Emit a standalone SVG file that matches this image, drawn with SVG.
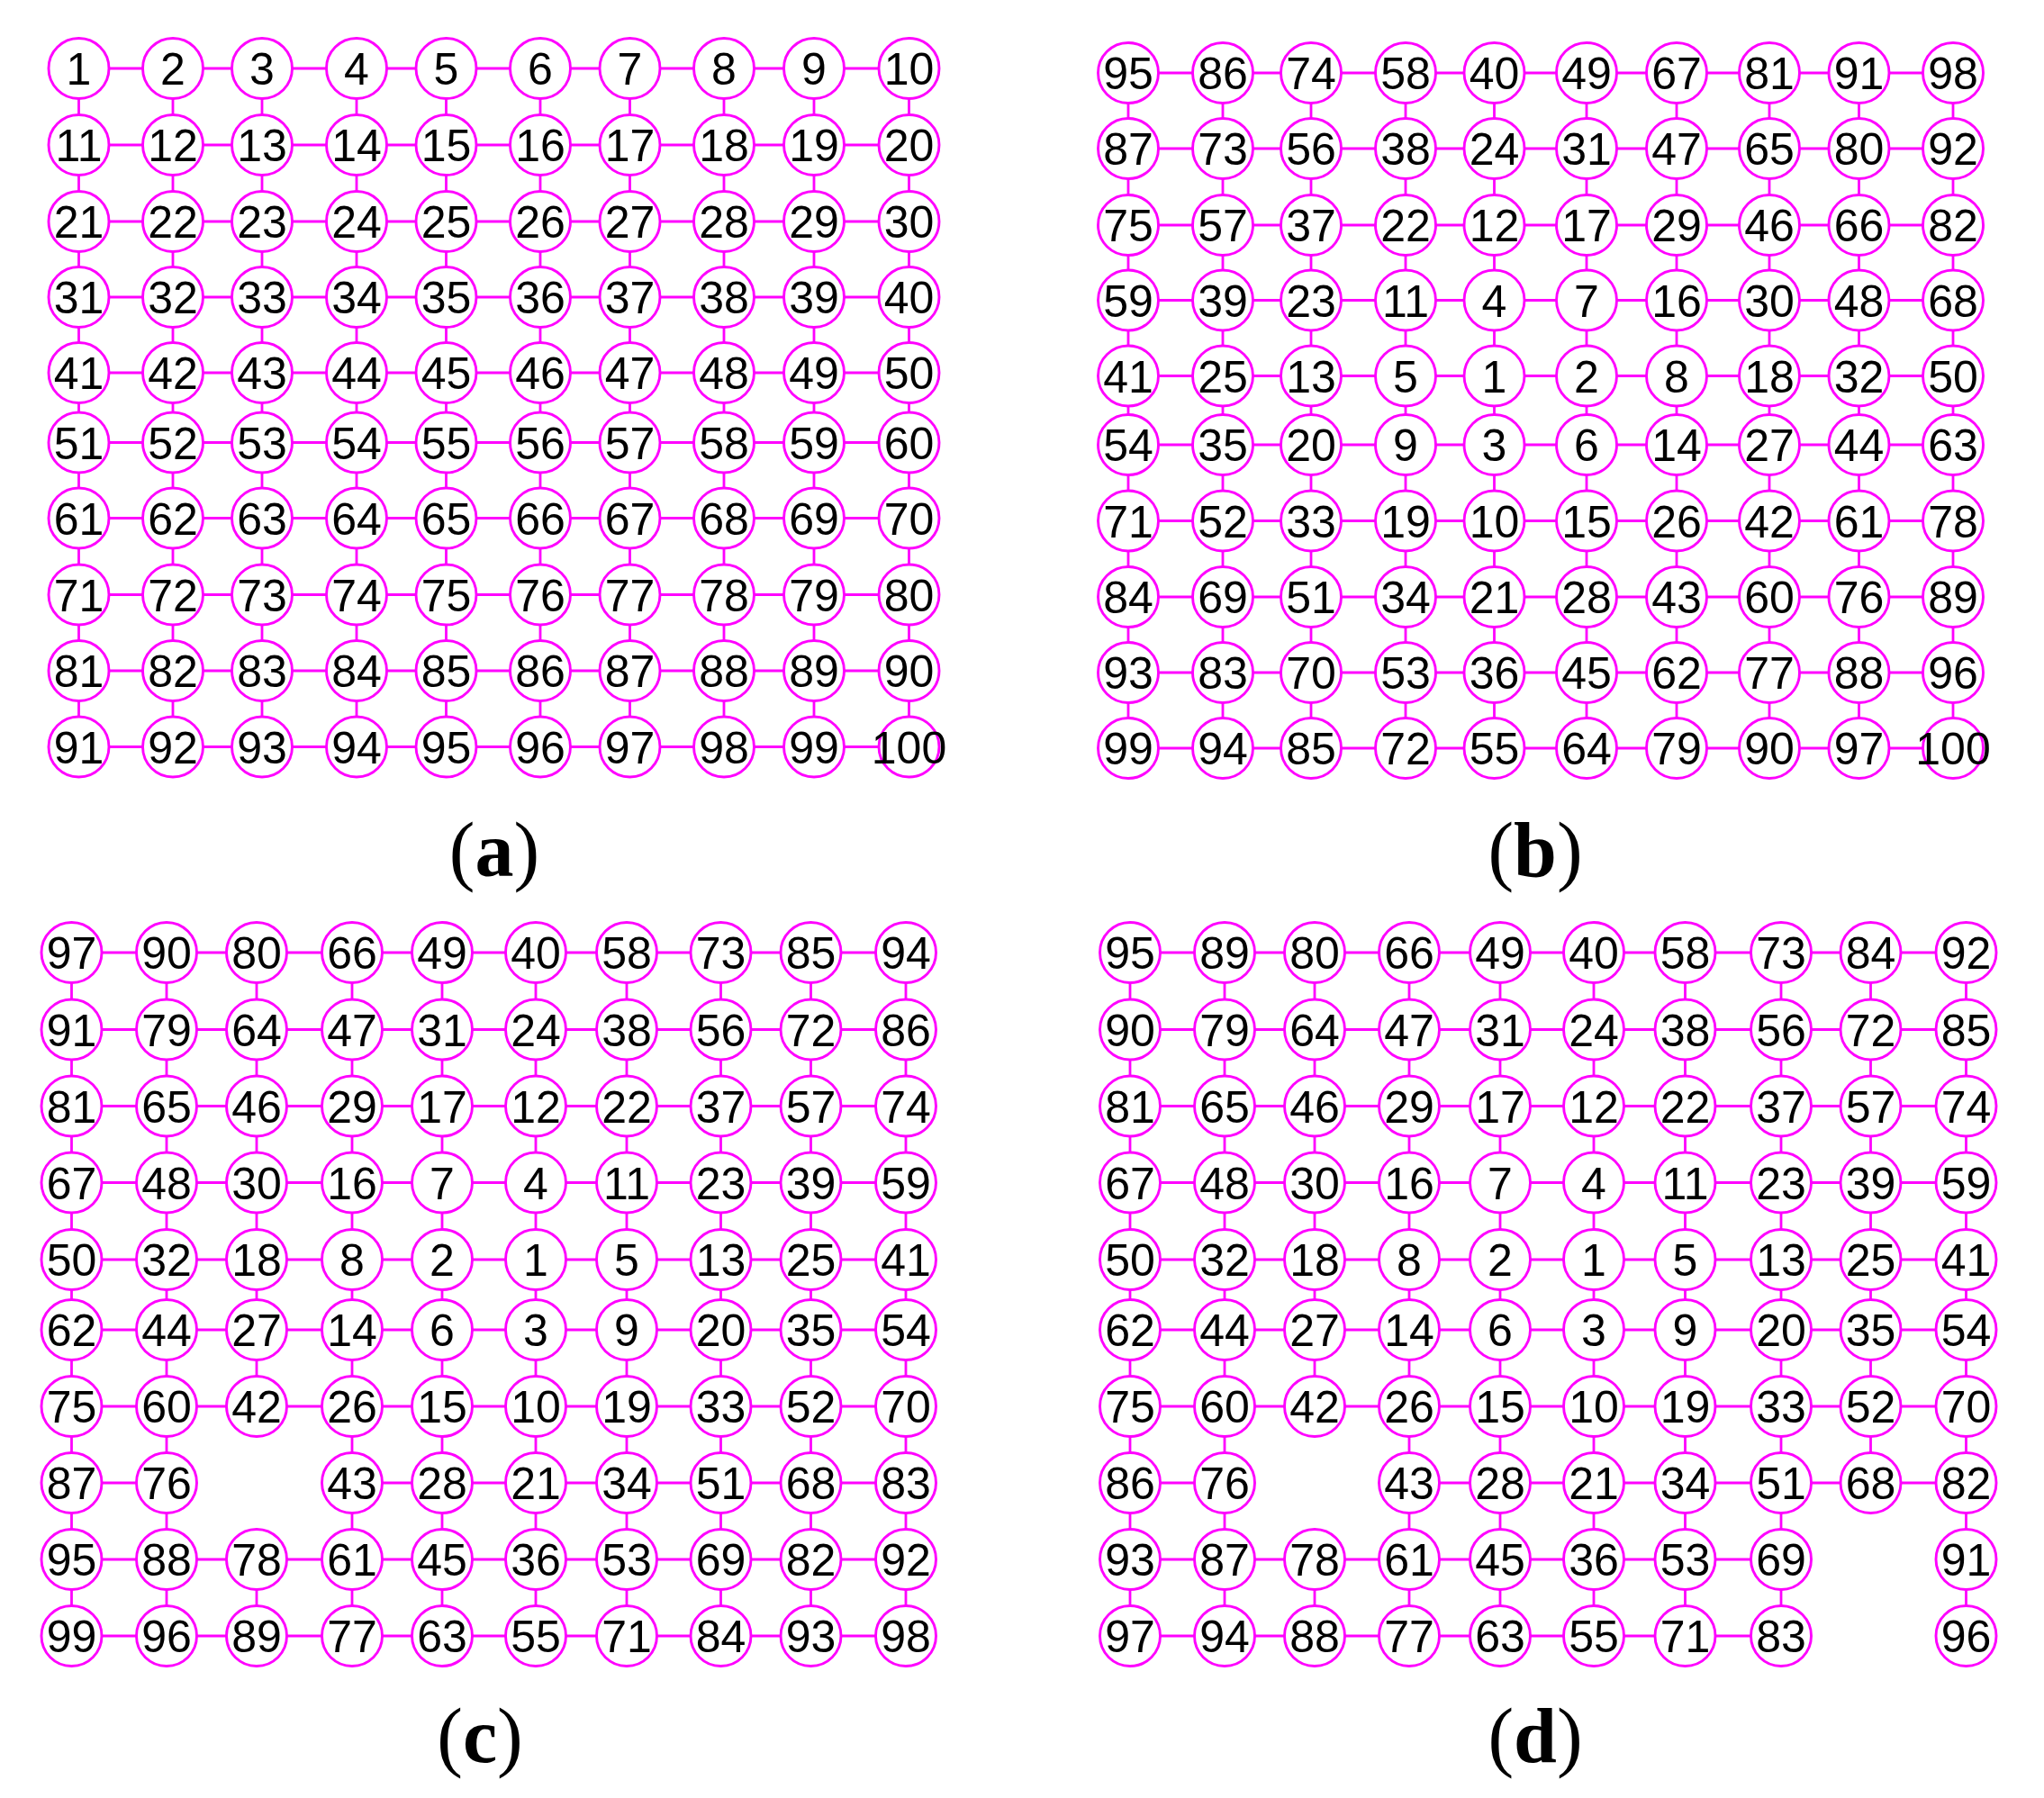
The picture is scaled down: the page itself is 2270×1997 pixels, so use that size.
<svg xmlns="http://www.w3.org/2000/svg" width="2270" height="1997" viewBox="0 0 2270 1997">
<style>
.e{fill:none;stroke:#FF00FF;stroke-width:2.8}
.n circle{fill:#fff;stroke:#FF00FF;stroke-width:2.9}
.n text{font-family:"Liberation Sans",Arial,sans-serif;font-size:50px;text-anchor:middle;fill:#000}
.lbl{font-family:"Liberation Serif","Times New Roman",serif;font-size:86px;text-anchor:middle;fill:#000}
.lbl tspan{font-weight:bold}
</style>
<rect width="2270" height="1997" fill="#fff"/>
<g id="connectors" class="e">
<path id="edges-a" d="M87.5 76H1009.5M87.5 161H1009.5M87.5 246H1009.5M87.5 330H1009.5M87.5 414H1009.5M87.5 491.5H1009.5M87.5 575.5H1009.5M87.5 660.5H1009.5M87.5 745H1009.5M87.5 829.5H1009.5M87.5 76V829.5M192 76V829.5M291 76V829.5M396 76V829.5M495.5 76V829.5M600 76V829.5M699.5 76V829.5M804 76V829.5M904 76V829.5M1009.5 76V829.5"/>
<path id="edges-b" d="M1253 81H2169M1253 165H2169M1253 250H2169M1253 333.5H2169M1253 417.5H2169M1253 494H2169M1253 578.5H2169M1253 663H2169M1253 747H2169M1253 831H2169M1253 81V831M1358 81V831M1456 81V831M1561 81V831M1659.5 81V831M1762 81V831M1862 81V831M1965 81V831M2064.5 81V831M2169 81V831"/>
<path id="edges-c" d="M79.5 1058H1006M79.5 1143.5H1006M79.5 1228.5H1006M79.5 1313.5H1006M79.5 1399H1006M79.5 1477H1006M79.5 1562H1006M79.5 1647H185M391 1647H1006M79.5 1732H1006M79.5 1817H1006M79.5 1058V1817M185 1058V1817M285 1058V1562M285 1732V1817M391 1058V1817M491 1058V1817M595 1058V1817M696 1058V1817M800.5 1058V1817M900.5 1058V1817M1006 1058V1817"/>
<path id="edges-d" d="M1255 1058H2183.5M1255 1143.5H2183.5M1255 1228.5H2183.5M1255 1313.5H2183.5M1255 1399H2183.5M1255 1477H2183.5M1255 1562H2183.5M1255 1647H1360M1565 1647H2183.5M1255 1732H1978M1255 1817H1978M1255 1058V1817M1360 1058V1817M1460 1058V1562M1460 1732V1817M1565 1058V1817M1666 1058V1817M1770 1058V1817M1871.5 1058V1817M1978 1058V1817M2077.5 1058V1647M2183.5 1058V1817"/>
</g>
<g id="panel-a">
<g id="a-1" class="n" transform="translate(87.5,76)"><circle r="33.5"/><text y="18">1</text></g>
<g id="a-2" class="n" transform="translate(192,76)"><circle r="33.5"/><text y="18">2</text></g>
<g id="a-3" class="n" transform="translate(291,76)"><circle r="33.5"/><text y="18">3</text></g>
<g id="a-4" class="n" transform="translate(396,76)"><circle r="33.5"/><text y="18">4</text></g>
<g id="a-5" class="n" transform="translate(495.5,76)"><circle r="33.5"/><text y="18">5</text></g>
<g id="a-6" class="n" transform="translate(600,76)"><circle r="33.5"/><text y="18">6</text></g>
<g id="a-7" class="n" transform="translate(699.5,76)"><circle r="33.5"/><text y="18">7</text></g>
<g id="a-8" class="n" transform="translate(804,76)"><circle r="33.5"/><text y="18">8</text></g>
<g id="a-9" class="n" transform="translate(904,76)"><circle r="33.5"/><text y="18">9</text></g>
<g id="a-10" class="n" transform="translate(1009.5,76)"><circle r="33.5"/><text y="18">10</text></g>
<g id="a-11" class="n" transform="translate(87.5,161)"><circle r="33.5"/><text y="18">11</text></g>
<g id="a-12" class="n" transform="translate(192,161)"><circle r="33.5"/><text y="18">12</text></g>
<g id="a-13" class="n" transform="translate(291,161)"><circle r="33.5"/><text y="18">13</text></g>
<g id="a-14" class="n" transform="translate(396,161)"><circle r="33.5"/><text y="18">14</text></g>
<g id="a-15" class="n" transform="translate(495.5,161)"><circle r="33.5"/><text y="18">15</text></g>
<g id="a-16" class="n" transform="translate(600,161)"><circle r="33.5"/><text y="18">16</text></g>
<g id="a-17" class="n" transform="translate(699.5,161)"><circle r="33.5"/><text y="18">17</text></g>
<g id="a-18" class="n" transform="translate(804,161)"><circle r="33.5"/><text y="18">18</text></g>
<g id="a-19" class="n" transform="translate(904,161)"><circle r="33.5"/><text y="18">19</text></g>
<g id="a-20" class="n" transform="translate(1009.5,161)"><circle r="33.5"/><text y="18">20</text></g>
<g id="a-21" class="n" transform="translate(87.5,246)"><circle r="33.5"/><text y="18">21</text></g>
<g id="a-22" class="n" transform="translate(192,246)"><circle r="33.5"/><text y="18">22</text></g>
<g id="a-23" class="n" transform="translate(291,246)"><circle r="33.5"/><text y="18">23</text></g>
<g id="a-24" class="n" transform="translate(396,246)"><circle r="33.5"/><text y="18">24</text></g>
<g id="a-25" class="n" transform="translate(495.5,246)"><circle r="33.5"/><text y="18">25</text></g>
<g id="a-26" class="n" transform="translate(600,246)"><circle r="33.5"/><text y="18">26</text></g>
<g id="a-27" class="n" transform="translate(699.5,246)"><circle r="33.5"/><text y="18">27</text></g>
<g id="a-28" class="n" transform="translate(804,246)"><circle r="33.5"/><text y="18">28</text></g>
<g id="a-29" class="n" transform="translate(904,246)"><circle r="33.5"/><text y="18">29</text></g>
<g id="a-30" class="n" transform="translate(1009.5,246)"><circle r="33.5"/><text y="18">30</text></g>
<g id="a-31" class="n" transform="translate(87.5,330)"><circle r="33.5"/><text y="18">31</text></g>
<g id="a-32" class="n" transform="translate(192,330)"><circle r="33.5"/><text y="18">32</text></g>
<g id="a-33" class="n" transform="translate(291,330)"><circle r="33.5"/><text y="18">33</text></g>
<g id="a-34" class="n" transform="translate(396,330)"><circle r="33.5"/><text y="18">34</text></g>
<g id="a-35" class="n" transform="translate(495.5,330)"><circle r="33.5"/><text y="18">35</text></g>
<g id="a-36" class="n" transform="translate(600,330)"><circle r="33.5"/><text y="18">36</text></g>
<g id="a-37" class="n" transform="translate(699.5,330)"><circle r="33.5"/><text y="18">37</text></g>
<g id="a-38" class="n" transform="translate(804,330)"><circle r="33.5"/><text y="18">38</text></g>
<g id="a-39" class="n" transform="translate(904,330)"><circle r="33.5"/><text y="18">39</text></g>
<g id="a-40" class="n" transform="translate(1009.5,330)"><circle r="33.5"/><text y="18">40</text></g>
<g id="a-41" class="n" transform="translate(87.5,414)"><circle r="33.5"/><text y="18">41</text></g>
<g id="a-42" class="n" transform="translate(192,414)"><circle r="33.5"/><text y="18">42</text></g>
<g id="a-43" class="n" transform="translate(291,414)"><circle r="33.5"/><text y="18">43</text></g>
<g id="a-44" class="n" transform="translate(396,414)"><circle r="33.5"/><text y="18">44</text></g>
<g id="a-45" class="n" transform="translate(495.5,414)"><circle r="33.5"/><text y="18">45</text></g>
<g id="a-46" class="n" transform="translate(600,414)"><circle r="33.5"/><text y="18">46</text></g>
<g id="a-47" class="n" transform="translate(699.5,414)"><circle r="33.5"/><text y="18">47</text></g>
<g id="a-48" class="n" transform="translate(804,414)"><circle r="33.5"/><text y="18">48</text></g>
<g id="a-49" class="n" transform="translate(904,414)"><circle r="33.5"/><text y="18">49</text></g>
<g id="a-50" class="n" transform="translate(1009.5,414)"><circle r="33.5"/><text y="18">50</text></g>
<g id="a-51" class="n" transform="translate(87.5,491.5)"><circle r="33.5"/><text y="18">51</text></g>
<g id="a-52" class="n" transform="translate(192,491.5)"><circle r="33.5"/><text y="18">52</text></g>
<g id="a-53" class="n" transform="translate(291,491.5)"><circle r="33.5"/><text y="18">53</text></g>
<g id="a-54" class="n" transform="translate(396,491.5)"><circle r="33.5"/><text y="18">54</text></g>
<g id="a-55" class="n" transform="translate(495.5,491.5)"><circle r="33.5"/><text y="18">55</text></g>
<g id="a-56" class="n" transform="translate(600,491.5)"><circle r="33.5"/><text y="18">56</text></g>
<g id="a-57" class="n" transform="translate(699.5,491.5)"><circle r="33.5"/><text y="18">57</text></g>
<g id="a-58" class="n" transform="translate(804,491.5)"><circle r="33.5"/><text y="18">58</text></g>
<g id="a-59" class="n" transform="translate(904,491.5)"><circle r="33.5"/><text y="18">59</text></g>
<g id="a-60" class="n" transform="translate(1009.5,491.5)"><circle r="33.5"/><text y="18">60</text></g>
<g id="a-61" class="n" transform="translate(87.5,575.5)"><circle r="33.5"/><text y="18">61</text></g>
<g id="a-62" class="n" transform="translate(192,575.5)"><circle r="33.5"/><text y="18">62</text></g>
<g id="a-63" class="n" transform="translate(291,575.5)"><circle r="33.5"/><text y="18">63</text></g>
<g id="a-64" class="n" transform="translate(396,575.5)"><circle r="33.5"/><text y="18">64</text></g>
<g id="a-65" class="n" transform="translate(495.5,575.5)"><circle r="33.5"/><text y="18">65</text></g>
<g id="a-66" class="n" transform="translate(600,575.5)"><circle r="33.5"/><text y="18">66</text></g>
<g id="a-67" class="n" transform="translate(699.5,575.5)"><circle r="33.5"/><text y="18">67</text></g>
<g id="a-68" class="n" transform="translate(804,575.5)"><circle r="33.5"/><text y="18">68</text></g>
<g id="a-69" class="n" transform="translate(904,575.5)"><circle r="33.5"/><text y="18">69</text></g>
<g id="a-70" class="n" transform="translate(1009.5,575.5)"><circle r="33.5"/><text y="18">70</text></g>
<g id="a-71" class="n" transform="translate(87.5,660.5)"><circle r="33.5"/><text y="18">71</text></g>
<g id="a-72" class="n" transform="translate(192,660.5)"><circle r="33.5"/><text y="18">72</text></g>
<g id="a-73" class="n" transform="translate(291,660.5)"><circle r="33.5"/><text y="18">73</text></g>
<g id="a-74" class="n" transform="translate(396,660.5)"><circle r="33.5"/><text y="18">74</text></g>
<g id="a-75" class="n" transform="translate(495.5,660.5)"><circle r="33.5"/><text y="18">75</text></g>
<g id="a-76" class="n" transform="translate(600,660.5)"><circle r="33.5"/><text y="18">76</text></g>
<g id="a-77" class="n" transform="translate(699.5,660.5)"><circle r="33.5"/><text y="18">77</text></g>
<g id="a-78" class="n" transform="translate(804,660.5)"><circle r="33.5"/><text y="18">78</text></g>
<g id="a-79" class="n" transform="translate(904,660.5)"><circle r="33.5"/><text y="18">79</text></g>
<g id="a-80" class="n" transform="translate(1009.5,660.5)"><circle r="33.5"/><text y="18">80</text></g>
<g id="a-81" class="n" transform="translate(87.5,745)"><circle r="33.5"/><text y="18">81</text></g>
<g id="a-82" class="n" transform="translate(192,745)"><circle r="33.5"/><text y="18">82</text></g>
<g id="a-83" class="n" transform="translate(291,745)"><circle r="33.5"/><text y="18">83</text></g>
<g id="a-84" class="n" transform="translate(396,745)"><circle r="33.5"/><text y="18">84</text></g>
<g id="a-85" class="n" transform="translate(495.5,745)"><circle r="33.5"/><text y="18">85</text></g>
<g id="a-86" class="n" transform="translate(600,745)"><circle r="33.5"/><text y="18">86</text></g>
<g id="a-87" class="n" transform="translate(699.5,745)"><circle r="33.5"/><text y="18">87</text></g>
<g id="a-88" class="n" transform="translate(804,745)"><circle r="33.5"/><text y="18">88</text></g>
<g id="a-89" class="n" transform="translate(904,745)"><circle r="33.5"/><text y="18">89</text></g>
<g id="a-90" class="n" transform="translate(1009.5,745)"><circle r="33.5"/><text y="18">90</text></g>
<g id="a-91" class="n" transform="translate(87.5,829.5)"><circle r="33.5"/><text y="18">91</text></g>
<g id="a-92" class="n" transform="translate(192,829.5)"><circle r="33.5"/><text y="18">92</text></g>
<g id="a-93" class="n" transform="translate(291,829.5)"><circle r="33.5"/><text y="18">93</text></g>
<g id="a-94" class="n" transform="translate(396,829.5)"><circle r="33.5"/><text y="18">94</text></g>
<g id="a-95" class="n" transform="translate(495.5,829.5)"><circle r="33.5"/><text y="18">95</text></g>
<g id="a-96" class="n" transform="translate(600,829.5)"><circle r="33.5"/><text y="18">96</text></g>
<g id="a-97" class="n" transform="translate(699.5,829.5)"><circle r="33.5"/><text y="18">97</text></g>
<g id="a-98" class="n" transform="translate(804,829.5)"><circle r="33.5"/><text y="18">98</text></g>
<g id="a-99" class="n" transform="translate(904,829.5)"><circle r="33.5"/><text y="18">99</text></g>
<g id="a-100" class="n" transform="translate(1009.5,829.5)"><circle r="33.5"/><text y="18">100</text></g>
</g>
<g id="panel-b">
<g id="b-95" class="n" transform="translate(1253,81)"><circle r="33.5"/><text y="18">95</text></g>
<g id="b-86" class="n" transform="translate(1358,81)"><circle r="33.5"/><text y="18">86</text></g>
<g id="b-74" class="n" transform="translate(1456,81)"><circle r="33.5"/><text y="18">74</text></g>
<g id="b-58" class="n" transform="translate(1561,81)"><circle r="33.5"/><text y="18">58</text></g>
<g id="b-40" class="n" transform="translate(1659.5,81)"><circle r="33.5"/><text y="18">40</text></g>
<g id="b-49" class="n" transform="translate(1762,81)"><circle r="33.5"/><text y="18">49</text></g>
<g id="b-67" class="n" transform="translate(1862,81)"><circle r="33.5"/><text y="18">67</text></g>
<g id="b-81" class="n" transform="translate(1965,81)"><circle r="33.5"/><text y="18">81</text></g>
<g id="b-91" class="n" transform="translate(2064.5,81)"><circle r="33.5"/><text y="18">91</text></g>
<g id="b-98" class="n" transform="translate(2169,81)"><circle r="33.5"/><text y="18">98</text></g>
<g id="b-87" class="n" transform="translate(1253,165)"><circle r="33.5"/><text y="18">87</text></g>
<g id="b-73" class="n" transform="translate(1358,165)"><circle r="33.5"/><text y="18">73</text></g>
<g id="b-56" class="n" transform="translate(1456,165)"><circle r="33.5"/><text y="18">56</text></g>
<g id="b-38" class="n" transform="translate(1561,165)"><circle r="33.5"/><text y="18">38</text></g>
<g id="b-24" class="n" transform="translate(1659.5,165)"><circle r="33.5"/><text y="18">24</text></g>
<g id="b-31" class="n" transform="translate(1762,165)"><circle r="33.5"/><text y="18">31</text></g>
<g id="b-47" class="n" transform="translate(1862,165)"><circle r="33.5"/><text y="18">47</text></g>
<g id="b-65" class="n" transform="translate(1965,165)"><circle r="33.5"/><text y="18">65</text></g>
<g id="b-80" class="n" transform="translate(2064.5,165)"><circle r="33.5"/><text y="18">80</text></g>
<g id="b-92" class="n" transform="translate(2169,165)"><circle r="33.5"/><text y="18">92</text></g>
<g id="b-75" class="n" transform="translate(1253,250)"><circle r="33.5"/><text y="18">75</text></g>
<g id="b-57" class="n" transform="translate(1358,250)"><circle r="33.5"/><text y="18">57</text></g>
<g id="b-37" class="n" transform="translate(1456,250)"><circle r="33.5"/><text y="18">37</text></g>
<g id="b-22" class="n" transform="translate(1561,250)"><circle r="33.5"/><text y="18">22</text></g>
<g id="b-12" class="n" transform="translate(1659.5,250)"><circle r="33.5"/><text y="18">12</text></g>
<g id="b-17" class="n" transform="translate(1762,250)"><circle r="33.5"/><text y="18">17</text></g>
<g id="b-29" class="n" transform="translate(1862,250)"><circle r="33.5"/><text y="18">29</text></g>
<g id="b-46" class="n" transform="translate(1965,250)"><circle r="33.5"/><text y="18">46</text></g>
<g id="b-66" class="n" transform="translate(2064.5,250)"><circle r="33.5"/><text y="18">66</text></g>
<g id="b-82" class="n" transform="translate(2169,250)"><circle r="33.5"/><text y="18">82</text></g>
<g id="b-59" class="n" transform="translate(1253,333.5)"><circle r="33.5"/><text y="18">59</text></g>
<g id="b-39" class="n" transform="translate(1358,333.5)"><circle r="33.5"/><text y="18">39</text></g>
<g id="b-23" class="n" transform="translate(1456,333.5)"><circle r="33.5"/><text y="18">23</text></g>
<g id="b-11" class="n" transform="translate(1561,333.5)"><circle r="33.5"/><text y="18">11</text></g>
<g id="b-4" class="n" transform="translate(1659.5,333.5)"><circle r="33.5"/><text y="18">4</text></g>
<g id="b-7" class="n" transform="translate(1762,333.5)"><circle r="33.5"/><text y="18">7</text></g>
<g id="b-16" class="n" transform="translate(1862,333.5)"><circle r="33.5"/><text y="18">16</text></g>
<g id="b-30" class="n" transform="translate(1965,333.5)"><circle r="33.5"/><text y="18">30</text></g>
<g id="b-48" class="n" transform="translate(2064.5,333.5)"><circle r="33.5"/><text y="18">48</text></g>
<g id="b-68" class="n" transform="translate(2169,333.5)"><circle r="33.5"/><text y="18">68</text></g>
<g id="b-41" class="n" transform="translate(1253,417.5)"><circle r="33.5"/><text y="18">41</text></g>
<g id="b-25" class="n" transform="translate(1358,417.5)"><circle r="33.5"/><text y="18">25</text></g>
<g id="b-13" class="n" transform="translate(1456,417.5)"><circle r="33.5"/><text y="18">13</text></g>
<g id="b-5" class="n" transform="translate(1561,417.5)"><circle r="33.5"/><text y="18">5</text></g>
<g id="b-1" class="n" transform="translate(1659.5,417.5)"><circle r="33.5"/><text y="18">1</text></g>
<g id="b-2" class="n" transform="translate(1762,417.5)"><circle r="33.5"/><text y="18">2</text></g>
<g id="b-8" class="n" transform="translate(1862,417.5)"><circle r="33.5"/><text y="18">8</text></g>
<g id="b-18" class="n" transform="translate(1965,417.5)"><circle r="33.5"/><text y="18">18</text></g>
<g id="b-32" class="n" transform="translate(2064.5,417.5)"><circle r="33.5"/><text y="18">32</text></g>
<g id="b-50" class="n" transform="translate(2169,417.5)"><circle r="33.5"/><text y="18">50</text></g>
<g id="b-54" class="n" transform="translate(1253,494)"><circle r="33.5"/><text y="18">54</text></g>
<g id="b-35" class="n" transform="translate(1358,494)"><circle r="33.5"/><text y="18">35</text></g>
<g id="b-20" class="n" transform="translate(1456,494)"><circle r="33.5"/><text y="18">20</text></g>
<g id="b-9" class="n" transform="translate(1561,494)"><circle r="33.5"/><text y="18">9</text></g>
<g id="b-3" class="n" transform="translate(1659.5,494)"><circle r="33.5"/><text y="18">3</text></g>
<g id="b-6" class="n" transform="translate(1762,494)"><circle r="33.5"/><text y="18">6</text></g>
<g id="b-14" class="n" transform="translate(1862,494)"><circle r="33.5"/><text y="18">14</text></g>
<g id="b-27" class="n" transform="translate(1965,494)"><circle r="33.5"/><text y="18">27</text></g>
<g id="b-44" class="n" transform="translate(2064.5,494)"><circle r="33.5"/><text y="18">44</text></g>
<g id="b-63" class="n" transform="translate(2169,494)"><circle r="33.5"/><text y="18">63</text></g>
<g id="b-71" class="n" transform="translate(1253,578.5)"><circle r="33.5"/><text y="18">71</text></g>
<g id="b-52" class="n" transform="translate(1358,578.5)"><circle r="33.5"/><text y="18">52</text></g>
<g id="b-33" class="n" transform="translate(1456,578.5)"><circle r="33.5"/><text y="18">33</text></g>
<g id="b-19" class="n" transform="translate(1561,578.5)"><circle r="33.5"/><text y="18">19</text></g>
<g id="b-10" class="n" transform="translate(1659.5,578.5)"><circle r="33.5"/><text y="18">10</text></g>
<g id="b-15" class="n" transform="translate(1762,578.5)"><circle r="33.5"/><text y="18">15</text></g>
<g id="b-26" class="n" transform="translate(1862,578.5)"><circle r="33.5"/><text y="18">26</text></g>
<g id="b-42" class="n" transform="translate(1965,578.5)"><circle r="33.5"/><text y="18">42</text></g>
<g id="b-61" class="n" transform="translate(2064.5,578.5)"><circle r="33.5"/><text y="18">61</text></g>
<g id="b-78" class="n" transform="translate(2169,578.5)"><circle r="33.5"/><text y="18">78</text></g>
<g id="b-84" class="n" transform="translate(1253,663)"><circle r="33.5"/><text y="18">84</text></g>
<g id="b-69" class="n" transform="translate(1358,663)"><circle r="33.5"/><text y="18">69</text></g>
<g id="b-51" class="n" transform="translate(1456,663)"><circle r="33.5"/><text y="18">51</text></g>
<g id="b-34" class="n" transform="translate(1561,663)"><circle r="33.5"/><text y="18">34</text></g>
<g id="b-21" class="n" transform="translate(1659.5,663)"><circle r="33.5"/><text y="18">21</text></g>
<g id="b-28" class="n" transform="translate(1762,663)"><circle r="33.5"/><text y="18">28</text></g>
<g id="b-43" class="n" transform="translate(1862,663)"><circle r="33.5"/><text y="18">43</text></g>
<g id="b-60" class="n" transform="translate(1965,663)"><circle r="33.5"/><text y="18">60</text></g>
<g id="b-76" class="n" transform="translate(2064.5,663)"><circle r="33.5"/><text y="18">76</text></g>
<g id="b-89" class="n" transform="translate(2169,663)"><circle r="33.5"/><text y="18">89</text></g>
<g id="b-93" class="n" transform="translate(1253,747)"><circle r="33.5"/><text y="18">93</text></g>
<g id="b-83" class="n" transform="translate(1358,747)"><circle r="33.5"/><text y="18">83</text></g>
<g id="b-70" class="n" transform="translate(1456,747)"><circle r="33.5"/><text y="18">70</text></g>
<g id="b-53" class="n" transform="translate(1561,747)"><circle r="33.5"/><text y="18">53</text></g>
<g id="b-36" class="n" transform="translate(1659.5,747)"><circle r="33.5"/><text y="18">36</text></g>
<g id="b-45" class="n" transform="translate(1762,747)"><circle r="33.5"/><text y="18">45</text></g>
<g id="b-62" class="n" transform="translate(1862,747)"><circle r="33.5"/><text y="18">62</text></g>
<g id="b-77" class="n" transform="translate(1965,747)"><circle r="33.5"/><text y="18">77</text></g>
<g id="b-88" class="n" transform="translate(2064.5,747)"><circle r="33.5"/><text y="18">88</text></g>
<g id="b-96" class="n" transform="translate(2169,747)"><circle r="33.5"/><text y="18">96</text></g>
<g id="b-99" class="n" transform="translate(1253,831)"><circle r="33.5"/><text y="18">99</text></g>
<g id="b-94" class="n" transform="translate(1358,831)"><circle r="33.5"/><text y="18">94</text></g>
<g id="b-85" class="n" transform="translate(1456,831)"><circle r="33.5"/><text y="18">85</text></g>
<g id="b-72" class="n" transform="translate(1561,831)"><circle r="33.5"/><text y="18">72</text></g>
<g id="b-55" class="n" transform="translate(1659.5,831)"><circle r="33.5"/><text y="18">55</text></g>
<g id="b-64" class="n" transform="translate(1762,831)"><circle r="33.5"/><text y="18">64</text></g>
<g id="b-79" class="n" transform="translate(1862,831)"><circle r="33.5"/><text y="18">79</text></g>
<g id="b-90" class="n" transform="translate(1965,831)"><circle r="33.5"/><text y="18">90</text></g>
<g id="b-97" class="n" transform="translate(2064.5,831)"><circle r="33.5"/><text y="18">97</text></g>
<g id="b-100" class="n" transform="translate(2169,831)"><circle r="33.5"/><text y="18">100</text></g>
</g>
<g id="panel-c">
<g id="c-97" class="n" transform="translate(79.5,1058)"><circle r="33.5"/><text y="18">97</text></g>
<g id="c-90" class="n" transform="translate(185,1058)"><circle r="33.5"/><text y="18">90</text></g>
<g id="c-80" class="n" transform="translate(285,1058)"><circle r="33.5"/><text y="18">80</text></g>
<g id="c-66" class="n" transform="translate(391,1058)"><circle r="33.5"/><text y="18">66</text></g>
<g id="c-49" class="n" transform="translate(491,1058)"><circle r="33.5"/><text y="18">49</text></g>
<g id="c-40" class="n" transform="translate(595,1058)"><circle r="33.5"/><text y="18">40</text></g>
<g id="c-58" class="n" transform="translate(696,1058)"><circle r="33.5"/><text y="18">58</text></g>
<g id="c-73" class="n" transform="translate(800.5,1058)"><circle r="33.5"/><text y="18">73</text></g>
<g id="c-85" class="n" transform="translate(900.5,1058)"><circle r="33.5"/><text y="18">85</text></g>
<g id="c-94" class="n" transform="translate(1006,1058)"><circle r="33.5"/><text y="18">94</text></g>
<g id="c-91" class="n" transform="translate(79.5,1143.5)"><circle r="33.5"/><text y="18">91</text></g>
<g id="c-79" class="n" transform="translate(185,1143.5)"><circle r="33.5"/><text y="18">79</text></g>
<g id="c-64" class="n" transform="translate(285,1143.5)"><circle r="33.5"/><text y="18">64</text></g>
<g id="c-47" class="n" transform="translate(391,1143.5)"><circle r="33.5"/><text y="18">47</text></g>
<g id="c-31" class="n" transform="translate(491,1143.5)"><circle r="33.5"/><text y="18">31</text></g>
<g id="c-24" class="n" transform="translate(595,1143.5)"><circle r="33.5"/><text y="18">24</text></g>
<g id="c-38" class="n" transform="translate(696,1143.5)"><circle r="33.5"/><text y="18">38</text></g>
<g id="c-56" class="n" transform="translate(800.5,1143.5)"><circle r="33.5"/><text y="18">56</text></g>
<g id="c-72" class="n" transform="translate(900.5,1143.5)"><circle r="33.5"/><text y="18">72</text></g>
<g id="c-86" class="n" transform="translate(1006,1143.5)"><circle r="33.5"/><text y="18">86</text></g>
<g id="c-81" class="n" transform="translate(79.5,1228.5)"><circle r="33.5"/><text y="18">81</text></g>
<g id="c-65" class="n" transform="translate(185,1228.5)"><circle r="33.5"/><text y="18">65</text></g>
<g id="c-46" class="n" transform="translate(285,1228.5)"><circle r="33.5"/><text y="18">46</text></g>
<g id="c-29" class="n" transform="translate(391,1228.5)"><circle r="33.5"/><text y="18">29</text></g>
<g id="c-17" class="n" transform="translate(491,1228.5)"><circle r="33.5"/><text y="18">17</text></g>
<g id="c-12" class="n" transform="translate(595,1228.5)"><circle r="33.5"/><text y="18">12</text></g>
<g id="c-22" class="n" transform="translate(696,1228.5)"><circle r="33.5"/><text y="18">22</text></g>
<g id="c-37" class="n" transform="translate(800.5,1228.5)"><circle r="33.5"/><text y="18">37</text></g>
<g id="c-57" class="n" transform="translate(900.5,1228.5)"><circle r="33.5"/><text y="18">57</text></g>
<g id="c-74" class="n" transform="translate(1006,1228.5)"><circle r="33.5"/><text y="18">74</text></g>
<g id="c-67" class="n" transform="translate(79.5,1313.5)"><circle r="33.5"/><text y="18">67</text></g>
<g id="c-48" class="n" transform="translate(185,1313.5)"><circle r="33.5"/><text y="18">48</text></g>
<g id="c-30" class="n" transform="translate(285,1313.5)"><circle r="33.5"/><text y="18">30</text></g>
<g id="c-16" class="n" transform="translate(391,1313.5)"><circle r="33.5"/><text y="18">16</text></g>
<g id="c-7" class="n" transform="translate(491,1313.5)"><circle r="33.5"/><text y="18">7</text></g>
<g id="c-4" class="n" transform="translate(595,1313.5)"><circle r="33.5"/><text y="18">4</text></g>
<g id="c-11" class="n" transform="translate(696,1313.5)"><circle r="33.5"/><text y="18">11</text></g>
<g id="c-23" class="n" transform="translate(800.5,1313.5)"><circle r="33.5"/><text y="18">23</text></g>
<g id="c-39" class="n" transform="translate(900.5,1313.5)"><circle r="33.5"/><text y="18">39</text></g>
<g id="c-59" class="n" transform="translate(1006,1313.5)"><circle r="33.5"/><text y="18">59</text></g>
<g id="c-50" class="n" transform="translate(79.5,1399)"><circle r="33.5"/><text y="18">50</text></g>
<g id="c-32" class="n" transform="translate(185,1399)"><circle r="33.5"/><text y="18">32</text></g>
<g id="c-18" class="n" transform="translate(285,1399)"><circle r="33.5"/><text y="18">18</text></g>
<g id="c-8" class="n" transform="translate(391,1399)"><circle r="33.5"/><text y="18">8</text></g>
<g id="c-2" class="n" transform="translate(491,1399)"><circle r="33.5"/><text y="18">2</text></g>
<g id="c-1" class="n" transform="translate(595,1399)"><circle r="33.5"/><text y="18">1</text></g>
<g id="c-5" class="n" transform="translate(696,1399)"><circle r="33.5"/><text y="18">5</text></g>
<g id="c-13" class="n" transform="translate(800.5,1399)"><circle r="33.5"/><text y="18">13</text></g>
<g id="c-25" class="n" transform="translate(900.5,1399)"><circle r="33.5"/><text y="18">25</text></g>
<g id="c-41" class="n" transform="translate(1006,1399)"><circle r="33.5"/><text y="18">41</text></g>
<g id="c-62" class="n" transform="translate(79.5,1477)"><circle r="33.5"/><text y="18">62</text></g>
<g id="c-44" class="n" transform="translate(185,1477)"><circle r="33.5"/><text y="18">44</text></g>
<g id="c-27" class="n" transform="translate(285,1477)"><circle r="33.5"/><text y="18">27</text></g>
<g id="c-14" class="n" transform="translate(391,1477)"><circle r="33.5"/><text y="18">14</text></g>
<g id="c-6" class="n" transform="translate(491,1477)"><circle r="33.5"/><text y="18">6</text></g>
<g id="c-3" class="n" transform="translate(595,1477)"><circle r="33.5"/><text y="18">3</text></g>
<g id="c-9" class="n" transform="translate(696,1477)"><circle r="33.5"/><text y="18">9</text></g>
<g id="c-20" class="n" transform="translate(800.5,1477)"><circle r="33.5"/><text y="18">20</text></g>
<g id="c-35" class="n" transform="translate(900.5,1477)"><circle r="33.5"/><text y="18">35</text></g>
<g id="c-54" class="n" transform="translate(1006,1477)"><circle r="33.5"/><text y="18">54</text></g>
<g id="c-75" class="n" transform="translate(79.5,1562)"><circle r="33.5"/><text y="18">75</text></g>
<g id="c-60" class="n" transform="translate(185,1562)"><circle r="33.5"/><text y="18">60</text></g>
<g id="c-42" class="n" transform="translate(285,1562)"><circle r="33.5"/><text y="18">42</text></g>
<g id="c-26" class="n" transform="translate(391,1562)"><circle r="33.5"/><text y="18">26</text></g>
<g id="c-15" class="n" transform="translate(491,1562)"><circle r="33.5"/><text y="18">15</text></g>
<g id="c-10" class="n" transform="translate(595,1562)"><circle r="33.5"/><text y="18">10</text></g>
<g id="c-19" class="n" transform="translate(696,1562)"><circle r="33.5"/><text y="18">19</text></g>
<g id="c-33" class="n" transform="translate(800.5,1562)"><circle r="33.5"/><text y="18">33</text></g>
<g id="c-52" class="n" transform="translate(900.5,1562)"><circle r="33.5"/><text y="18">52</text></g>
<g id="c-70" class="n" transform="translate(1006,1562)"><circle r="33.5"/><text y="18">70</text></g>
<g id="c-87" class="n" transform="translate(79.5,1647)"><circle r="33.5"/><text y="18">87</text></g>
<g id="c-76" class="n" transform="translate(185,1647)"><circle r="33.5"/><text y="18">76</text></g>
<g id="c-43" class="n" transform="translate(391,1647)"><circle r="33.5"/><text y="18">43</text></g>
<g id="c-28" class="n" transform="translate(491,1647)"><circle r="33.5"/><text y="18">28</text></g>
<g id="c-21" class="n" transform="translate(595,1647)"><circle r="33.5"/><text y="18">21</text></g>
<g id="c-34" class="n" transform="translate(696,1647)"><circle r="33.5"/><text y="18">34</text></g>
<g id="c-51" class="n" transform="translate(800.5,1647)"><circle r="33.5"/><text y="18">51</text></g>
<g id="c-68" class="n" transform="translate(900.5,1647)"><circle r="33.5"/><text y="18">68</text></g>
<g id="c-83" class="n" transform="translate(1006,1647)"><circle r="33.5"/><text y="18">83</text></g>
<g id="c-95" class="n" transform="translate(79.5,1732)"><circle r="33.5"/><text y="18">95</text></g>
<g id="c-88" class="n" transform="translate(185,1732)"><circle r="33.5"/><text y="18">88</text></g>
<g id="c-78" class="n" transform="translate(285,1732)"><circle r="33.5"/><text y="18">78</text></g>
<g id="c-61" class="n" transform="translate(391,1732)"><circle r="33.5"/><text y="18">61</text></g>
<g id="c-45" class="n" transform="translate(491,1732)"><circle r="33.5"/><text y="18">45</text></g>
<g id="c-36" class="n" transform="translate(595,1732)"><circle r="33.5"/><text y="18">36</text></g>
<g id="c-53" class="n" transform="translate(696,1732)"><circle r="33.5"/><text y="18">53</text></g>
<g id="c-69" class="n" transform="translate(800.5,1732)"><circle r="33.5"/><text y="18">69</text></g>
<g id="c-82" class="n" transform="translate(900.5,1732)"><circle r="33.5"/><text y="18">82</text></g>
<g id="c-92" class="n" transform="translate(1006,1732)"><circle r="33.5"/><text y="18">92</text></g>
<g id="c-99" class="n" transform="translate(79.5,1817)"><circle r="33.5"/><text y="18">99</text></g>
<g id="c-96" class="n" transform="translate(185,1817)"><circle r="33.5"/><text y="18">96</text></g>
<g id="c-89" class="n" transform="translate(285,1817)"><circle r="33.5"/><text y="18">89</text></g>
<g id="c-77" class="n" transform="translate(391,1817)"><circle r="33.5"/><text y="18">77</text></g>
<g id="c-63" class="n" transform="translate(491,1817)"><circle r="33.5"/><text y="18">63</text></g>
<g id="c-55" class="n" transform="translate(595,1817)"><circle r="33.5"/><text y="18">55</text></g>
<g id="c-71" class="n" transform="translate(696,1817)"><circle r="33.5"/><text y="18">71</text></g>
<g id="c-84" class="n" transform="translate(800.5,1817)"><circle r="33.5"/><text y="18">84</text></g>
<g id="c-93" class="n" transform="translate(900.5,1817)"><circle r="33.5"/><text y="18">93</text></g>
<g id="c-98" class="n" transform="translate(1006,1817)"><circle r="33.5"/><text y="18">98</text></g>
</g>
<g id="panel-d">
<g id="d-95" class="n" transform="translate(1255,1058)"><circle r="33.5"/><text y="18">95</text></g>
<g id="d-89" class="n" transform="translate(1360,1058)"><circle r="33.5"/><text y="18">89</text></g>
<g id="d-80" class="n" transform="translate(1460,1058)"><circle r="33.5"/><text y="18">80</text></g>
<g id="d-66" class="n" transform="translate(1565,1058)"><circle r="33.5"/><text y="18">66</text></g>
<g id="d-49" class="n" transform="translate(1666,1058)"><circle r="33.5"/><text y="18">49</text></g>
<g id="d-40" class="n" transform="translate(1770,1058)"><circle r="33.5"/><text y="18">40</text></g>
<g id="d-58" class="n" transform="translate(1871.5,1058)"><circle r="33.5"/><text y="18">58</text></g>
<g id="d-73" class="n" transform="translate(1978,1058)"><circle r="33.5"/><text y="18">73</text></g>
<g id="d-84" class="n" transform="translate(2077.5,1058)"><circle r="33.5"/><text y="18">84</text></g>
<g id="d-92" class="n" transform="translate(2183.5,1058)"><circle r="33.5"/><text y="18">92</text></g>
<g id="d-90" class="n" transform="translate(1255,1143.5)"><circle r="33.5"/><text y="18">90</text></g>
<g id="d-79" class="n" transform="translate(1360,1143.5)"><circle r="33.5"/><text y="18">79</text></g>
<g id="d-64" class="n" transform="translate(1460,1143.5)"><circle r="33.5"/><text y="18">64</text></g>
<g id="d-47" class="n" transform="translate(1565,1143.5)"><circle r="33.5"/><text y="18">47</text></g>
<g id="d-31" class="n" transform="translate(1666,1143.5)"><circle r="33.5"/><text y="18">31</text></g>
<g id="d-24" class="n" transform="translate(1770,1143.5)"><circle r="33.5"/><text y="18">24</text></g>
<g id="d-38" class="n" transform="translate(1871.5,1143.5)"><circle r="33.5"/><text y="18">38</text></g>
<g id="d-56" class="n" transform="translate(1978,1143.5)"><circle r="33.5"/><text y="18">56</text></g>
<g id="d-72" class="n" transform="translate(2077.5,1143.5)"><circle r="33.5"/><text y="18">72</text></g>
<g id="d-85" class="n" transform="translate(2183.5,1143.5)"><circle r="33.5"/><text y="18">85</text></g>
<g id="d-81" class="n" transform="translate(1255,1228.5)"><circle r="33.5"/><text y="18">81</text></g>
<g id="d-65" class="n" transform="translate(1360,1228.5)"><circle r="33.5"/><text y="18">65</text></g>
<g id="d-46" class="n" transform="translate(1460,1228.5)"><circle r="33.5"/><text y="18">46</text></g>
<g id="d-29" class="n" transform="translate(1565,1228.5)"><circle r="33.5"/><text y="18">29</text></g>
<g id="d-17" class="n" transform="translate(1666,1228.5)"><circle r="33.5"/><text y="18">17</text></g>
<g id="d-12" class="n" transform="translate(1770,1228.5)"><circle r="33.5"/><text y="18">12</text></g>
<g id="d-22" class="n" transform="translate(1871.5,1228.5)"><circle r="33.5"/><text y="18">22</text></g>
<g id="d-37" class="n" transform="translate(1978,1228.5)"><circle r="33.5"/><text y="18">37</text></g>
<g id="d-57" class="n" transform="translate(2077.5,1228.5)"><circle r="33.5"/><text y="18">57</text></g>
<g id="d-74" class="n" transform="translate(2183.5,1228.5)"><circle r="33.5"/><text y="18">74</text></g>
<g id="d-67" class="n" transform="translate(1255,1313.5)"><circle r="33.5"/><text y="18">67</text></g>
<g id="d-48" class="n" transform="translate(1360,1313.5)"><circle r="33.5"/><text y="18">48</text></g>
<g id="d-30" class="n" transform="translate(1460,1313.5)"><circle r="33.5"/><text y="18">30</text></g>
<g id="d-16" class="n" transform="translate(1565,1313.5)"><circle r="33.5"/><text y="18">16</text></g>
<g id="d-7" class="n" transform="translate(1666,1313.5)"><circle r="33.5"/><text y="18">7</text></g>
<g id="d-4" class="n" transform="translate(1770,1313.5)"><circle r="33.5"/><text y="18">4</text></g>
<g id="d-11" class="n" transform="translate(1871.5,1313.5)"><circle r="33.5"/><text y="18">11</text></g>
<g id="d-23" class="n" transform="translate(1978,1313.5)"><circle r="33.5"/><text y="18">23</text></g>
<g id="d-39" class="n" transform="translate(2077.5,1313.5)"><circle r="33.5"/><text y="18">39</text></g>
<g id="d-59" class="n" transform="translate(2183.5,1313.5)"><circle r="33.5"/><text y="18">59</text></g>
<g id="d-50" class="n" transform="translate(1255,1399)"><circle r="33.5"/><text y="18">50</text></g>
<g id="d-32" class="n" transform="translate(1360,1399)"><circle r="33.5"/><text y="18">32</text></g>
<g id="d-18" class="n" transform="translate(1460,1399)"><circle r="33.5"/><text y="18">18</text></g>
<g id="d-8" class="n" transform="translate(1565,1399)"><circle r="33.5"/><text y="18">8</text></g>
<g id="d-2" class="n" transform="translate(1666,1399)"><circle r="33.5"/><text y="18">2</text></g>
<g id="d-1" class="n" transform="translate(1770,1399)"><circle r="33.5"/><text y="18">1</text></g>
<g id="d-5" class="n" transform="translate(1871.5,1399)"><circle r="33.5"/><text y="18">5</text></g>
<g id="d-13" class="n" transform="translate(1978,1399)"><circle r="33.5"/><text y="18">13</text></g>
<g id="d-25" class="n" transform="translate(2077.5,1399)"><circle r="33.5"/><text y="18">25</text></g>
<g id="d-41" class="n" transform="translate(2183.5,1399)"><circle r="33.5"/><text y="18">41</text></g>
<g id="d-62" class="n" transform="translate(1255,1477)"><circle r="33.5"/><text y="18">62</text></g>
<g id="d-44" class="n" transform="translate(1360,1477)"><circle r="33.5"/><text y="18">44</text></g>
<g id="d-27" class="n" transform="translate(1460,1477)"><circle r="33.5"/><text y="18">27</text></g>
<g id="d-14" class="n" transform="translate(1565,1477)"><circle r="33.5"/><text y="18">14</text></g>
<g id="d-6" class="n" transform="translate(1666,1477)"><circle r="33.5"/><text y="18">6</text></g>
<g id="d-3" class="n" transform="translate(1770,1477)"><circle r="33.5"/><text y="18">3</text></g>
<g id="d-9" class="n" transform="translate(1871.5,1477)"><circle r="33.5"/><text y="18">9</text></g>
<g id="d-20" class="n" transform="translate(1978,1477)"><circle r="33.5"/><text y="18">20</text></g>
<g id="d-35" class="n" transform="translate(2077.5,1477)"><circle r="33.5"/><text y="18">35</text></g>
<g id="d-54" class="n" transform="translate(2183.5,1477)"><circle r="33.5"/><text y="18">54</text></g>
<g id="d-75" class="n" transform="translate(1255,1562)"><circle r="33.5"/><text y="18">75</text></g>
<g id="d-60" class="n" transform="translate(1360,1562)"><circle r="33.5"/><text y="18">60</text></g>
<g id="d-42" class="n" transform="translate(1460,1562)"><circle r="33.5"/><text y="18">42</text></g>
<g id="d-26" class="n" transform="translate(1565,1562)"><circle r="33.5"/><text y="18">26</text></g>
<g id="d-15" class="n" transform="translate(1666,1562)"><circle r="33.5"/><text y="18">15</text></g>
<g id="d-10" class="n" transform="translate(1770,1562)"><circle r="33.5"/><text y="18">10</text></g>
<g id="d-19" class="n" transform="translate(1871.5,1562)"><circle r="33.5"/><text y="18">19</text></g>
<g id="d-33" class="n" transform="translate(1978,1562)"><circle r="33.5"/><text y="18">33</text></g>
<g id="d-52" class="n" transform="translate(2077.5,1562)"><circle r="33.5"/><text y="18">52</text></g>
<g id="d-70" class="n" transform="translate(2183.5,1562)"><circle r="33.5"/><text y="18">70</text></g>
<g id="d-86" class="n" transform="translate(1255,1647)"><circle r="33.5"/><text y="18">86</text></g>
<g id="d-76" class="n" transform="translate(1360,1647)"><circle r="33.5"/><text y="18">76</text></g>
<g id="d-43" class="n" transform="translate(1565,1647)"><circle r="33.5"/><text y="18">43</text></g>
<g id="d-28" class="n" transform="translate(1666,1647)"><circle r="33.5"/><text y="18">28</text></g>
<g id="d-21" class="n" transform="translate(1770,1647)"><circle r="33.5"/><text y="18">21</text></g>
<g id="d-34" class="n" transform="translate(1871.5,1647)"><circle r="33.5"/><text y="18">34</text></g>
<g id="d-51" class="n" transform="translate(1978,1647)"><circle r="33.5"/><text y="18">51</text></g>
<g id="d-68" class="n" transform="translate(2077.5,1647)"><circle r="33.5"/><text y="18">68</text></g>
<g id="d-82" class="n" transform="translate(2183.5,1647)"><circle r="33.5"/><text y="18">82</text></g>
<g id="d-93" class="n" transform="translate(1255,1732)"><circle r="33.5"/><text y="18">93</text></g>
<g id="d-87" class="n" transform="translate(1360,1732)"><circle r="33.5"/><text y="18">87</text></g>
<g id="d-78" class="n" transform="translate(1460,1732)"><circle r="33.5"/><text y="18">78</text></g>
<g id="d-61" class="n" transform="translate(1565,1732)"><circle r="33.5"/><text y="18">61</text></g>
<g id="d-45" class="n" transform="translate(1666,1732)"><circle r="33.5"/><text y="18">45</text></g>
<g id="d-36" class="n" transform="translate(1770,1732)"><circle r="33.5"/><text y="18">36</text></g>
<g id="d-53" class="n" transform="translate(1871.5,1732)"><circle r="33.5"/><text y="18">53</text></g>
<g id="d-69" class="n" transform="translate(1978,1732)"><circle r="33.5"/><text y="18">69</text></g>
<g id="d-91" class="n" transform="translate(2183.5,1732)"><circle r="33.5"/><text y="18">91</text></g>
<g id="d-97" class="n" transform="translate(1255,1817)"><circle r="33.5"/><text y="18">97</text></g>
<g id="d-94" class="n" transform="translate(1360,1817)"><circle r="33.5"/><text y="18">94</text></g>
<g id="d-88" class="n" transform="translate(1460,1817)"><circle r="33.5"/><text y="18">88</text></g>
<g id="d-77" class="n" transform="translate(1565,1817)"><circle r="33.5"/><text y="18">77</text></g>
<g id="d-63" class="n" transform="translate(1666,1817)"><circle r="33.5"/><text y="18">63</text></g>
<g id="d-55" class="n" transform="translate(1770,1817)"><circle r="33.5"/><text y="18">55</text></g>
<g id="d-71" class="n" transform="translate(1871.5,1817)"><circle r="33.5"/><text y="18">71</text></g>
<g id="d-83" class="n" transform="translate(1978,1817)"><circle r="33.5"/><text y="18">83</text></g>
<g id="d-96" class="n" transform="translate(2183.5,1817)"><circle r="33.5"/><text y="18">96</text></g>
</g>
<g id="captions">
<text class="lbl" x="549" y="973">(<tspan>a</tspan>)</text>
<text class="lbl" x="1705" y="973">(<tspan>b</tspan>)</text>
<text class="lbl" x="533" y="1957">(<tspan>c</tspan>)</text>
<text class="lbl" x="1705" y="1957">(<tspan>d</tspan>)</text>
</g>
</svg>
